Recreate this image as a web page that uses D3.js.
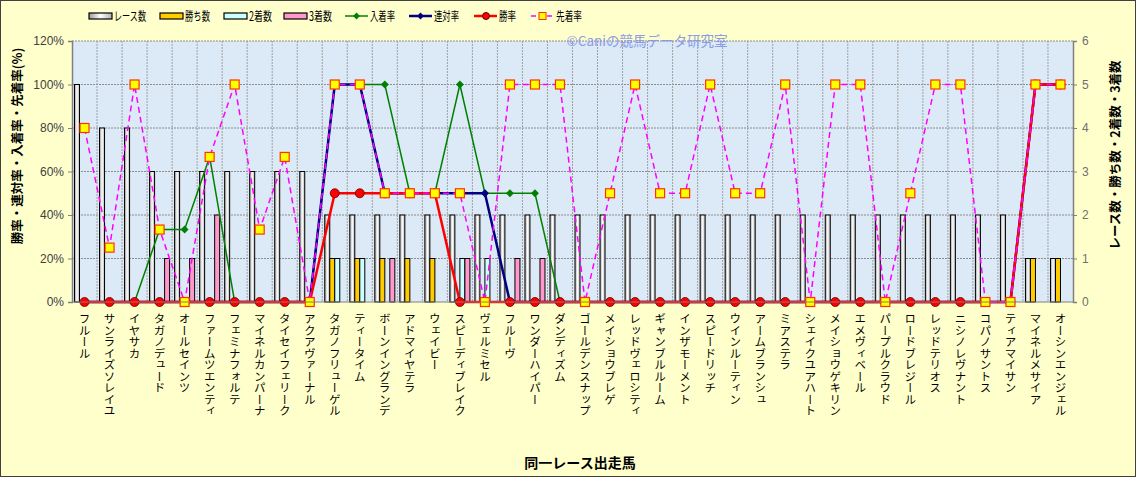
<!DOCTYPE html>
<html lang="ja">
<head>
<meta charset="UTF-8">
<title>同一レース出走馬</title>
<script src="https://d3js.org/d3.v7.min.js"></script>
<style>
    body { margin: 0; background: #ffffcc; }
    svg { display: block; font-family: "Liberation Sans", "Noto Sans CJK JP", sans-serif; }
    .jp { font-family: "Noto Sans CJK JP", sans-serif; }
</style>
</head>
<body>
<div id="chart"></div>
<script>
// horse names
var horses = ['フルール', 'サンライズソレイユ', 'イヤサカ', 'タガノデュード', 'オールセインツ',
    'ファームツエンティ', 'フェミナフォルテ', 'マイネルカンパーナ', 'タイセイフェリーク', 'アクアヴァーナル',
    'タガノフリューゲル', 'ティータイム', 'ボーンイングランデ', 'アドマイヤテラ', 'ウェイビー',
    'スピーディブレイク', 'ヴェルミセル', 'フルーヴ', 'ワンダーハイパー', 'ダンディズム',
    'ゴールデンスナップ', 'メイショウブレゲ', 'レッドヴェロシティ', 'ギャンブルルーム', 'インザモーメント',
    'スピードリッチ', 'ウインルーティン', 'アームブランシュ', 'ミアステラ', 'シェイクユアハート',
    'メイショウゲキリン', 'エメヴィベール', 'パープルクラウド', 'ロードブレジール', 'レッドテリオス',
    'ニシノレヴナント', 'コパノサントス', 'ティアマイサン', 'マイネルメサイア', 'オーシンエンジェル'];

// counts (right axis)
var races   = [5,4,4,3,3,3,3,3,3,3, 2,2,2,2,2,2,2,2,2,2, 2,2,2,2,2,2,2,2,2,2, 2,2,2,2,2,2,2,2,1,1];
var wins    = [0,0,0,0,0,0,0,0,0,0, 1,1,1,1,1,0,0,0,0,0, 0,0,0,0,0,0,0,0,0,0, 0,0,0,0,0,0,0,0,1,1];
var seconds = [0,0,0,0,0,0,0,0,0,0, 1,1,0,0,0,1,1,0,0,0, 0,0,0,0,0,0,0,0,0,0, 0,0,0,0,0,0,0,0,0,0];
var thirds  = [0,0,0,1,1,2,0,0,0,0, 0,0,1,0,0,1,0,1,1,0, 0,0,0,0,0,0,0,0,0,0, 0,0,0,0,0,0,0,0,0,0];

// rates (left axis, %)
var placeRate = [0,0,0,33.3,33.3,66.7,0,0,0,0, 100,100,100,50,50,100,50,50,50,0, 0,0,0,0,0,0,0,0,0,0, 0,0,0,0,0,0,0,0,100,100];
var top2Rate  = [0,0,0,0,0,0,0,0,0,0, 100,100,50,50,50,50,50,0,0,0, 0,0,0,0,0,0,0,0,0,0, 0,0,0,0,0,0,0,0,100,100];
var winRate   = [0,0,0,0,0,0,0,0,0,0, 50,50,50,50,50,0,0,0,0,0, 0,0,0,0,0,0,0,0,0,0, 0,0,0,0,0,0,0,0,100,100];
var beatRate  = [80,25,100,33.3,0,66.7,100,33.3,66.7,0, 100,100,50,50,50,50,0,100,100,100,
                 0,50,100,50,50,100,50,50,100,0, 100,100,0,50,100,100,0,0,100,100];

var leftTicks = [0,20,40,60,80,100,120];
var rightTicks = [0,1,2,3,4,5,6];

var w = 1136, h = 477;
var m = {top: 41, left: 72, bottom: 175, right: 63};
var innerW = w - m.left - m.right;
var innerH = h - m.top - m.bottom;

var svg = d3.select('#chart').append('svg')
    .attr('width', w)
    .attr('height', h);

var defs = svg.append('defs');
var grad = defs.append('linearGradient').attr('id', 'raceGrad')
    .attr('x1', '0%').attr('x2', '100%').attr('y1', '0%').attr('y2', '0%');
grad.append('stop').attr('offset', '0%').attr('stop-color', '#9a9a9a');
grad.append('stop').attr('offset', '50%').attr('stop-color', '#ffffff');
grad.append('stop').attr('offset', '100%').attr('stop-color', '#b0b0b0');

// outer frame
svg.append('rect')
    .attr('x', 0.5).attr('y', 0.5)
    .attr('width', w - 1).attr('height', h - 1)
    .attr('fill', '#ffffcc')
    .attr('stroke', '#404040');

var g = svg.append('g').attr('transform', 'translate(' + m.left + ',' + m.top + ')');

var x = d3.scaleBand().domain(d3.range(horses.length)).range([0, innerW]);
var xSub = d3.scaleBand().domain([0, 1, 2, 3]).range([2.5, x.bandwidth() - 2.5]);
var yL = d3.scaleLinear().domain([0, 120]).range([innerH, 0]);
var yR = d3.scaleLinear().domain([0, 6]).range([innerH, 0]);

// plot background
g.append('rect')
    .attr('width', innerW).attr('height', innerH)
    .attr('fill', '#dce9f7');

// grid
g.append('g').selectAll('line')
    .data(leftTicks.slice(1))
    .enter().append('line')
    .attr('x1', 0).attr('x2', innerW)
    .attr('y1', d => yL(d)).attr('y2', d => yL(d))
    .attr('stroke', '#8c8c8c').attr('stroke-dasharray', '2,1');
g.append('g').selectAll('line')
    .data(d3.range(1, horses.length))
    .enter().append('line')
    .attr('x1', d => x(d)).attr('x2', d => x(d))
    .attr('y1', 0).attr('y2', innerH)
    .attr('stroke', '#a0a0a0').attr('stroke-dasharray', '2,1');

// watermark
g.append('text')
    .attr('class', 'jp')
    .attr('x', 575).attr('y', 5)
    .attr('text-anchor', 'middle')
    .attr('font-size', '13.5px')
    .attr('fill', '#8b9be6')
    .text('©Caniの競馬データ研究室');

// bars
var barSeries = [
    {vals: races,   fill: 'url(#raceGrad)'},
    {vals: wins,    fill: '#ffcc00'},
    {vals: seconds, fill: '#ccffff'},
    {vals: thirds,  fill: '#ff99cc'}
];
barSeries.forEach(function(s, k) {
    var pts = s.vals.map((v, i) => ({i: i, v: v})).filter(d => d.v > 0);
    g.append('g').selectAll('rect')
        .data(pts)
        .enter().append('rect')
        .attr('x', d => x(d.i) + xSub(k))
        .attr('y', d => yR(d.v))
        .attr('width', xSub.bandwidth())
        .attr('height', d => innerH - yR(d.v))
        .attr('fill', s.fill)
        .attr('stroke', '#000')
        .attr('stroke-width', 1);
});

var cx = i => x(i) + x.bandwidth() / 2;

function drawLine(vals, color, width, dash) {
    var line = d3.line().x((d, i) => cx(i)).y(d => yL(d));
    g.append('path')
        .datum(vals)
        .attr('d', line)
        .attr('fill', 'none')
        .attr('stroke', color)
        .attr('stroke-width', width)
        .attr('stroke-dasharray', dash || null);
}
function drawDiamonds(vals, color) {
    g.append('g').selectAll('path')
        .data(vals).enter().append('path')
        .attr('d', d3.symbol().type(d3.symbolDiamond2).size(40))
        .attr('transform', (d, i) => 'translate(' + cx(i) + ',' + yL(d) + ')')
        .attr('fill', color);
}

drawLine(placeRate, '#008000', 1.5);
drawDiamonds(placeRate, '#008000');
drawLine(top2Rate, '#000080', 2.5);
drawDiamonds(top2Rate, '#000080');
drawLine(winRate, '#ff0000', 2.5);
g.append('g').selectAll('circle')
    .data(winRate).enter().append('circle')
    .attr('cx', (d, i) => cx(i)).attr('cy', d => yL(d))
    .attr('r', 4.5)
    .attr('fill', '#ff0000').attr('stroke', '#600000').attr('stroke-width', 0.8);
drawLine(beatRate, '#ff00ff', 1.5, '6,4');
g.append('g').selectAll('rect')
    .data(beatRate).enter().append('rect')
    .attr('x', (d, i) => cx(i) - 4.5).attr('y', d => yL(d) - 4.5)
    .attr('width', 9).attr('height', 9)
    .attr('fill', '#ffff00').attr('stroke', '#ff3300').attr('stroke-width', 1.2);

// axes
var yAxisL = d3.axisLeft(yL).tickValues(leftTicks).tickFormat(d => d + '%').tickSize(4);
var yAxisR = d3.axisRight(yR).tickValues(rightTicks).tickFormat(d3.format('d')).tickSize(4);
var gl = g.append('g').call(yAxisL);
var gr = g.append('g').attr('transform', 'translate(' + innerW + ',0)').call(yAxisR);
[gl, gr].forEach(function(a) {
    a.select('.domain').attr('stroke', '#808080').attr('stroke-width', 1.5);
    a.selectAll('.tick line').attr('stroke', '#808080');
    a.selectAll('text').attr('font-size', '12px').attr('fill', '#404040')
        .attr('font-family', '"Liberation Sans", sans-serif');
});
gl.selectAll('text').attr('x', -8);
gr.selectAll('text').attr('x', 9).attr('fill', '#707070');
g.append('line')
    .attr('x1', 0).attr('x2', innerW)
    .attr('y1', innerH).attr('y2', innerH)
    .attr('stroke', '#808080');

// x labels, vertical
g.append('g').selectAll('text')
    .data(horses).enter().append('text')
    .attr('class', 'jp')
    .attr('x', (d, i) => cx(i))
    .attr('y', innerH + 11)
    .attr('font-size', '11.5px')
    .attr('fill', '#000')
    .style('writing-mode', 'vertical-rl')
    .style('text-orientation', 'upright')
    .text(d => d);

// axis titles
svg.append('text')
    .attr('class', 'jp')
    .attr('transform', 'translate(22,146) rotate(-90)')
    .attr('text-anchor', 'middle')
    .attr('font-size', '12.5px').attr('font-weight', 'bold')
    .text('勝率・連対率・入着率・先着率(%)');
svg.append('text')
    .attr('class', 'jp')
    .attr('transform', 'translate(1120,155) rotate(-90)')
    .attr('text-anchor', 'middle')
    .attr('font-size', '12.5px').attr('font-weight', 'bold')
    .text('レース数・勝ち数・2着数・3着数');
svg.append('text')
    .attr('class', 'jp')
    .attr('x', 580).attr('y', 468)
    .attr('text-anchor', 'middle')
    .attr('font-size', '14px').attr('font-weight', 'bold')
    .text('同一レース出走馬');

// legend
var legend = svg.append('g').attr('class', 'legend');
var legItems = [
    {label: 'レース数', type: 'bar', fill: 'url(#raceGrad)', x: 89, tw: 32},
    {label: '勝ち数', type: 'bar', fill: '#ffcc00', x: 160, tw: 25},
    {label: '2着数', type: 'bar', fill: '#ccffff', x: 224, tw: 23},
    {label: '3着数', type: 'bar', fill: '#ff99cc', x: 284, tw: 23},
    {label: '入着率', type: 'diamond', color: '#008000', x: 345, tw: 25},
    {label: '連対率', type: 'diamond', color: '#000080', x: 409, tw: 25},
    {label: '勝率', type: 'circle', color: '#ff0000', x: 474, tw: 17},
    {label: '先着率', type: 'square', color: '#ff00ff', x: 531, tw: 26}
];
var ly = 16;
legItems.forEach(function(it) {
    var lg = legend.append('g');
    if (it.type === 'bar') {
        lg.append('rect').attr('x', it.x).attr('y', ly - 3).attr('width', 23).attr('height', 6)
            .attr('fill', it.fill).attr('stroke', '#000').attr('stroke-width', 1.2);
    } else {
        lg.append('line').attr('x1', it.x).attr('x2', it.x + 23).attr('y1', ly).attr('y2', ly)
            .attr('stroke', it.color)
            .attr('stroke-width', it.color === '#008000' || it.type === 'square' ? 1.5 : 2.5)
            .attr('stroke-dasharray', it.type === 'square' ? '5,3' : null);
        if (it.type === 'diamond') {
            lg.append('path').attr('d', d3.symbol().type(d3.symbolDiamond2).size(30))
                .attr('transform', 'translate(' + (it.x + 11.5) + ',' + ly + ')').attr('fill', it.color);
        } else if (it.type === 'circle') {
            lg.append('circle').attr('cx', it.x + 12).attr('cy', ly).attr('r', 3.5)
                .attr('fill', '#ff0000').attr('stroke', '#600000');
        } else {
            lg.append('rect').attr('x', it.x + 8).attr('y', ly - 3.5).attr('width', 7).attr('height', 7)
                .attr('fill', '#ffff00').attr('stroke', '#ff3300');
        }
    }
    lg.append('text').attr('class', 'jp')
        .attr('x', it.x + 25).attr('y', ly + 4.5)
        .attr('font-size', '12.5px').attr('fill', '#000')
        .attr('textLength', it.tw).attr('lengthAdjust', 'spacingAndGlyphs')
        .text(it.label);
});
</script>
</body>
</html>
